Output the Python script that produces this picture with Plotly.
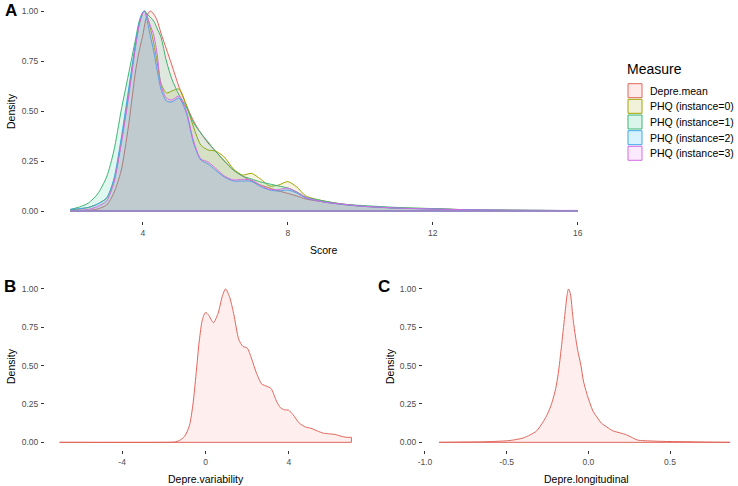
import plotly.graph_objects as go

# ---------------- Data ----------------
score = [2.0, 2.25, 2.5, 2.75, 3.0, 3.2, 3.4, 3.6, 3.8, 3.9, 4.0, 4.05, 4.1, 4.2, 4.3,
         4.4, 4.5, 4.65, 4.8, 5.0, 5.2, 5.4, 5.6, 5.8, 6.0, 6.25, 6.5, 6.75, 7.0, 7.25,
         7.5, 7.75, 8.0, 8.25, 8.5, 9.0, 9.5, 10.0, 11.0, 12.0, 13.0, 14.0, 15.0, 16.0]

depre_mean = [0.0, 0.001, 0.003, 0.01, 0.03, 0.09, 0.2, 0.42, 0.7, 0.8, 0.88, 0.93, 0.97, 1.0, 0.985,
              0.95, 0.89, 0.81, 0.73, 0.62, 0.53, 0.45, 0.39, 0.34, 0.30, 0.25, 0.205, 0.175, 0.15, 0.13,
              0.115, 0.1, 0.088, 0.075, 0.06, 0.045, 0.033, 0.025, 0.015, 0.01, 0.005, 0.003, 0.002, 0.001]

phq0 = [0.006, 0.01, 0.018, 0.035, 0.065, 0.15, 0.34, 0.58, 0.83, 0.93, 0.99, 1.0, 0.985, 0.92, 0.84,
        0.74, 0.64, 0.59, 0.6, 0.61, 0.53, 0.42, 0.33, 0.305, 0.3, 0.27, 0.21, 0.18, 0.188, 0.16,
        0.125, 0.13, 0.147, 0.12, 0.075, 0.05, 0.035, 0.025, 0.015, 0.012, 0.006, 0.004, 0.003, 0.002]

phq1 = [0.008, 0.02, 0.04, 0.085, 0.17, 0.3, 0.5, 0.68, 0.86, 0.95, 0.995, 1.0, 0.99, 0.97, 0.95,
        0.91, 0.87, 0.75, 0.66, 0.58, 0.52, 0.44, 0.39, 0.345, 0.3, 0.25, 0.205, 0.175, 0.16, 0.145,
        0.135, 0.125, 0.115, 0.095, 0.07, 0.05, 0.035, 0.028, 0.018, 0.012, 0.006, 0.004, 0.003, 0.002]

phq2 = [0.008, 0.012, 0.018, 0.035, 0.065, 0.16, 0.36, 0.6, 0.84, 0.94, 0.995, 1.0, 0.97, 0.88, 0.8,
        0.7, 0.61, 0.55, 0.545, 0.565, 0.49, 0.34, 0.255, 0.235, 0.205, 0.17, 0.15, 0.15, 0.148, 0.122,
        0.105, 0.1, 0.105, 0.09, 0.065, 0.045, 0.033, 0.024, 0.014, 0.01, 0.006, 0.004, 0.003, 0.002]

phq3 = [0.002, 0.004, 0.008, 0.022, 0.05, 0.14, 0.33, 0.56, 0.82, 0.93, 0.99, 1.0, 0.98, 0.93, 0.88,
        0.78, 0.63, 0.565, 0.555, 0.575, 0.5, 0.35, 0.26, 0.245, 0.215, 0.175, 0.155, 0.158, 0.155, 0.128,
        0.108, 0.107, 0.115, 0.095, 0.068, 0.045, 0.035, 0.025, 0.015, 0.01, 0.006, 0.004, 0.003, 0.003]

measures = ["Depre.mean", "PHQ (instance=0)", "PHQ (instance=1)", "PHQ (instance=2)", "PHQ (instance=3)"]
measure_colors = ["#F8766D", "#A3A500", "#00BF7D", "#00B0F6", "#E76BF3"]
line_colors = ["#E0665C", "#A3A500", "#3DB574", "#3FA6E8", "#D46BE6"]

variability_x = [-7.0, -2.0, -1.5, -1.25, -1.0, -0.77, -0.6, -0.45, -0.3, -0.15, 0.0, 0.15, 0.38, 0.6,
                 0.8, 0.96, 1.15, 1.35, 1.6, 1.8, 2.0, 2.2, 2.45, 2.7, 2.95, 3.15, 3.4, 3.6, 3.8,
                 3.98, 4.2, 4.5, 4.8, 5.05, 5.35, 5.65, 5.95, 6.2, 6.5, 6.75, 7.0]
variability_y = [0.0, 0.0, 0.002, 0.012, 0.04, 0.11, 0.25, 0.45, 0.66, 0.8, 0.847, 0.83, 0.78, 0.84,
                 0.95, 1.0, 0.95, 0.84, 0.67, 0.625, 0.615, 0.55, 0.45, 0.38, 0.365, 0.35, 0.27, 0.225, 0.212,
                 0.21, 0.18, 0.125, 0.1, 0.092, 0.075, 0.06, 0.055, 0.052, 0.04, 0.033, 0.033]

longitudinal_x = [-0.914, -0.75, -0.62, -0.5, -0.46, -0.4, -0.357, -0.316, -0.276, -0.25, -0.224, -0.2,
                  -0.184, -0.165, -0.145, -0.13, -0.122, -0.11, -0.095, -0.08, -0.065, -0.045, -0.03,
                  -0.01, 0.01, 0.03, 0.051, 0.08, 0.113, 0.15, 0.2, 0.235, 0.27, 0.3, 0.4, 0.5, 0.6, 0.7, 0.868]
longitudinal_y = [0.0, 0.002, 0.004, 0.01, 0.015, 0.028, 0.048, 0.075, 0.135, 0.185, 0.255, 0.35,
                  0.45, 0.62, 0.82, 0.96, 1.0, 0.97, 0.82, 0.7, 0.6, 0.5, 0.4,
                  0.32, 0.255, 0.2, 0.167, 0.125, 0.1, 0.075, 0.06, 0.048, 0.03, 0.015, 0.008, 0.005, 0.004, 0.002, 0.0]

density_ticks = [0, 0.25, 0.5, 0.75, 1.0]
density_labels = ["0.00", "0.25", "0.50", "0.75", "1.00"]
score_ticks = [4, 8, 12, 16]
variability_ticks = [-4, 0, 4]
variability_labels = ["-4", "0", "4"]
longitudinal_ticks = [-1.0, -0.5, 0.0, 0.5]
longitudinal_labels = ["-1.0", "-0.5", "0.0", "0.5"]

# ---------------- Styling helpers ----------------
W, H = 738, 486
FONT = "Liberation Sans, Arial, sans-serif"
ALPHA = 0.12


def rgba(hex_color, a):
    h = hex_color.lstrip("#")
    r, g, b = int(h[0:2], 16), int(h[2:4], 16), int(h[4:6], 16)
    return f"rgba({r},{g},{b},{a})"


def px_x(p):
    return p / W


def px_y(p):
    return 1 - p / H


fig = go.Figure()

# Panel A densities
series_a = [depre_mean, phq0, phq1, phq2, phq3]
for name, ys, col, lcol in zip(measures, series_a, measure_colors, line_colors):
    fig.add_trace(go.Scatter(
        x=score, y=ys, name=name, mode="lines",
        line=dict(color=lcol, width=1, shape="spline", smoothing=0.7),
        fill="tozeroy", fillcolor=rgba(col, ALPHA),
        xaxis="x", yaxis="y", showlegend=False, hoverinfo="skip"))
for lcol in line_colors:
    fig.add_trace(go.Scatter(
        x=[score[0], score[-1]], y=[0, 0], mode="lines",
        line=dict(color=lcol, width=1), xaxis="x", yaxis="y",
        showlegend=False, hoverinfo="skip"))

red = measure_colors[0]
red_line = line_colors[0]
# Panel B
fig.add_trace(go.Scatter(
    x=variability_x, y=variability_y, mode="lines",
    line=dict(color=red_line, width=1, shape="spline", smoothing=0.7),
    fill="tozeroy", fillcolor=rgba(red, ALPHA),
    xaxis="x2", yaxis="y2", showlegend=False, hoverinfo="skip"))
fig.add_trace(go.Scatter(
    x=[variability_x[0], variability_x[-1], variability_x[-1]],
    y=[0, 0, variability_y[-1]], mode="lines",
    line=dict(color=red_line, width=1), xaxis="x2", yaxis="y2",
    showlegend=False, hoverinfo="skip"))

# Panel C
fig.add_trace(go.Scatter(
    x=longitudinal_x, y=longitudinal_y, mode="lines",
    line=dict(color=red_line, width=1, shape="spline", smoothing=0.7),
    fill="tozeroy", fillcolor=rgba(red, ALPHA),
    xaxis="x3", yaxis="y3", showlegend=False, hoverinfo="skip"))
fig.add_trace(go.Scatter(
    x=[longitudinal_x[0], longitudinal_x[-1]], y=[0, 0], mode="lines",
    line=dict(color=red_line, width=1), xaxis="x3", yaxis="y3",
    showlegend=False, hoverinfo="skip"))

tick_font = dict(family=FONT, size=8.5, color="#4D4D4D")
common = dict(showgrid=False, zeroline=False, showline=False, ticks="outside",
              ticklen=3, tickwidth=1, tickcolor="#333333", tickfont=tick_font,
              automargin=False, ticklabelstandoff=1)

fig.update_layout(
    template="none",
    width=W, height=H, margin=dict(l=0, r=0, t=0, b=0, pad=0),
    paper_bgcolor="white", plot_bgcolor="white",
    font=dict(family=FONT),
    xaxis=dict(domain=[px_x(45), px_x(603)], range=[1.3, 16.7], anchor="y",
               tickvals=score_ticks, ticktext=[str(v) for v in score_ticks], **common),
    yaxis=dict(domain=[px_y(221), px_y(1)], range=[-0.05, 1.05], anchor="x",
               tickvals=density_ticks, ticktext=density_labels, **common),
    xaxis2=dict(domain=[px_x(45), px_x(366)], range=[-7.7, 7.7], anchor="y2",
                tickvals=variability_ticks, ticktext=variability_labels, **common),
    yaxis2=dict(domain=[px_y(450), px_y(281.3)], range=[-0.05, 1.05], anchor="x2",
                tickvals=density_ticks, ticktext=density_labels, **common),
    xaxis3=dict(domain=[px_x(423), px_x(737)], range=[-1.012, 0.91], anchor="y3",
                tickvals=longitudinal_ticks, ticktext=longitudinal_labels, **common),
    yaxis3=dict(domain=[px_y(450), px_y(281.3)], range=[-0.05, 1.05], anchor="x3",
                tickvals=density_ticks, ticktext=density_labels, **common),
)

annotations = []
title_font = dict(family=FONT, size=10.5, color="black")
# Axis titles
for text, x, y, ang in [("Score", 324, 250, 0), ("Density", 11, 111, -90),
                        ("Depre.variability", 206, 479, 0), ("Density", 11, 366, -90),
                        ("Depre.longitudinal", 586, 479, 0), ("Density", 390, 366, -90)]:
    annotations.append(dict(text=text, x=px_x(x), y=px_y(y), xref="paper", yref="paper",
                            xanchor="center", yanchor="middle", showarrow=False, textangle=ang,
                            font=title_font))

# Panel tags
for label, x, y in [("A", 3, 11), ("B", 2, 286), ("C", 376, 286)]:
    annotations.append(dict(text=f"<b>{label}</b>", x=px_x(x), y=px_y(y), xref="paper", yref="paper",
                            xanchor="left", yanchor="middle", showarrow=False,
                            font=dict(family=FONT, size=17, color="black")))

# Manual ggplot-style legend
annotations.append(dict(text="Measure", x=px_x(625), y=px_y(69), xref="paper", yref="paper",
                        xanchor="left", yanchor="middle", showarrow=False,
                        font=dict(family=FONT, size=14, color="black")))
shapes = []
key_y = [90.7, 106.3, 122.0, 137.7, 153.3]
for name, col, lcol, yc in zip(measures, measure_colors, line_colors, key_y):
    shapes.append(dict(type="rect", xref="paper", yref="paper",
                       x0=px_x(628), x1=px_x(642), y0=px_y(yc + 7), y1=px_y(yc - 7),
                       fillcolor=rgba(col, 0.15), line=dict(color=lcol, width=1)))
    annotations.append(dict(text=name, x=px_x(648), y=px_y(yc), xref="paper", yref="paper",
                            xanchor="left", yanchor="middle", showarrow=False,
                            font=dict(family=FONT, size=10.5, color="black")))

fig.update_layout(annotations=annotations, shapes=shapes)

fig.write_html("out.html", config={"displayModeBar": False, "staticPlot": True},
               post_script="document.body.style.margin='0px';document.body.style.overflow='hidden';")
